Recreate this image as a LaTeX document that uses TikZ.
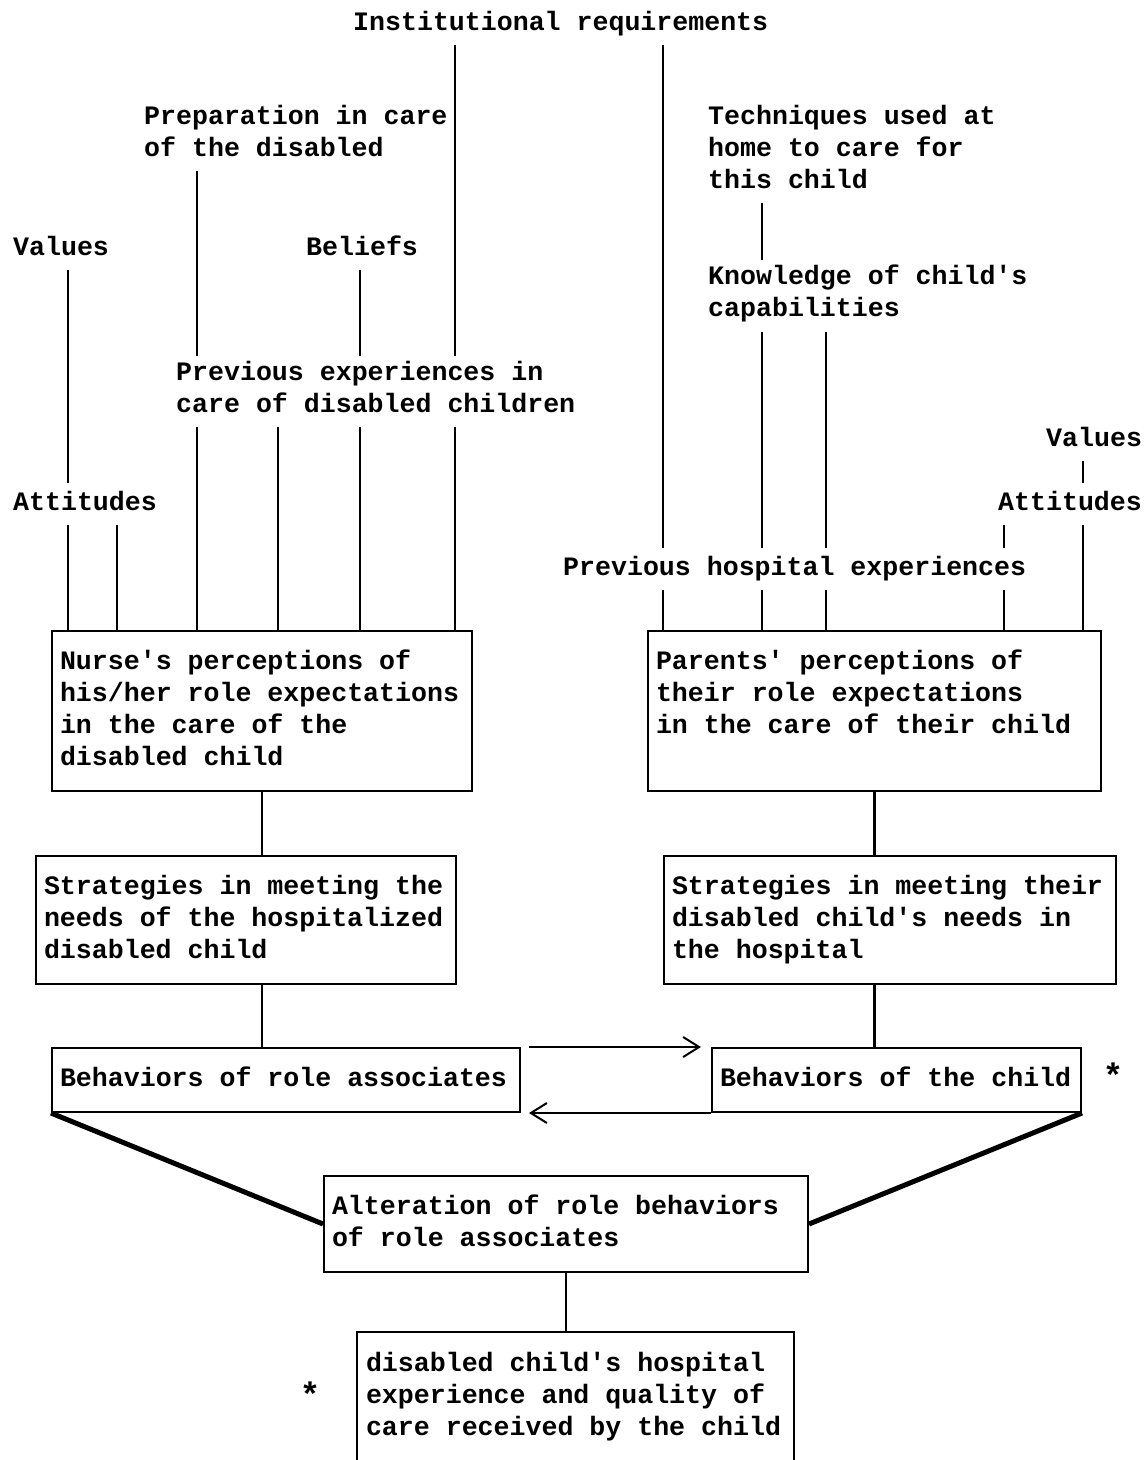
\documentclass[tikz,border=0pt]{standalone}
\usepackage{fontspec}
\setmonofont{Liberation Mono}
\usetikzlibrary{arrows.meta}
\newcommand{\typespace}{\spaceskip=0pt\relax\xspaceskip=0pt\relax}

\begin{document}
\begin{tikzpicture}[x=0.5pt, y=-0.5pt, line width=1.2pt]
    \tikzstyle{every node} = [font=\ttfamily\bfseries\fontsize{13.3}{16}\selectfont, align=left,
        execute at begin node={\typespace\strut}, execute at end node=\strut]
    \tikzstyle{lbl} = [anchor=north west, inner xsep=0pt, inner ysep=2pt]
    \tikzstyle{box} = [draw, line width=1pt, anchor=north west, inner xsep=4pt, inner ysep=8pt]
    \tikzstyle{starmark} = [font=\ttfamily\bfseries\fontsize{17}{16}\selectfont]
    \tikzstyle{link} = [line width=1pt, -{Straight Barb[length=8pt, width=10pt]}]
    \tikzstyle{heavy} = [line width=2.5pt]
    \useasboundingbox (0,0) rectangle (1144,1460);

    \node (inst) [lbl] at (352, 3) {Institutional requirements};
    \node (prep) [lbl] at (143, 100) {Preparation in care\\of the disabled};
    \node (valL) [lbl] at (12, 228) {Values};
    \node (beliefs) [lbl] at (305, 228) {Beliefs};
    \node (prevexp) [lbl] at (175, 356) {Previous experiences in\\care of disabled children};
    \node (attL) [lbl] at (12, 483) {Attitudes};
    \node (tech) [lbl] at (707, 100) {Techniques used at\\home to care for\\this child};
    \node (know) [lbl] at (707, 260) {Knowledge of child's\\capabilities};
    \node (valR) [lbl] at (1045, 419) {Values};
    \node (attR) [lbl] at (997, 483) {Attitudes};
    \node (prevhosp) [lbl] at (562, 548) {Previous hospital experiences};

    \node (nurse) [box, text width=202pt] at (51, 630)
        {Nurse's perceptions of\\his/her role expectations\\in the care of the\\disabled child};
    \node (parents) [box, text width=218.5pt] at (647, 630)
        {Parents' perceptions of\\their role expectations\\in the care of their child\\ \mbox{}};
    \node (stratL) [box, text width=202pt] at (35, 855)
        {Strategies in meeting the\\needs of the hospitalized\\disabled child};
    \node (stratR) [box, text width=218pt] at (663, 855)
        {Strategies in meeting their\\disabled child's needs in\\the hospital};
    \node (behL) [box, text width=226pt] at (51, 1047) {Behaviors of role associates};
    \node (behR) [box, text width=176.5pt] at (711, 1047) {Behaviors of the child};
    \node (star1) [starmark] at (1113, 1080) {*};
    \node (alter) [box, text width=234pt] at (323, 1175)
        {Alteration of role behaviors\\of role associates};
    \node (result) [box, draw=none, text width=209.5pt] at (357, 1332)
        {disabled child's hospital\\experience and quality of\\care received by the child};
    \node (star2) [starmark] at (310, 1399) {*};

    \coordinate (c1) at (68, 0);
    \coordinate (c2) at (117, 0);
    \coordinate (c3) at (197, 0);
    \coordinate (c4) at (278, 0);
    \coordinate (c5) at (360, 0);
    \coordinate (c6) at (455, 0);
    \coordinate (c7) at (663, 0);
    \coordinate (c8) at (762, 0);
    \coordinate (c9) at (826, 0);
    \coordinate (c10) at (1004, 0);
    \coordinate (c11) at (1083, 0);

    \draw (valL.south -| c1) -- (attL.north -| c1);
    \draw (attL.south -| c1) -- (nurse.north -| c1);
    \draw (attL.south -| c2) -- (nurse.north -| c2);
    \draw (prep.south -| c3) -- (prevexp.north -| c3);
    \draw (prevexp.south -| c3) -- (nurse.north -| c3);
    \draw (prevexp.south -| c4) -- (nurse.north -| c4);
    \draw (beliefs.south -| c5) -- (prevexp.north -| c5);
    \draw (prevexp.south -| c5) -- (nurse.north -| c5);
    \draw (inst.south -| c6) -- (prevexp.north -| c6);
    \draw (prevexp.south -| c6) -- (nurse.north -| c6);
    \draw (inst.south -| c7) -- (prevhosp.north -| c7);
    \draw (prevhosp.south -| c7) -- (parents.north -| c7);
    \draw (tech.south -| c8) -- (know.north -| c8);
    \draw (know.south -| c8) -- (prevhosp.north -| c8);
    \draw (prevhosp.south -| c8) -- (parents.north -| c8);
    \draw (know.south -| c9) -- (prevhosp.north -| c9);
    \draw (prevhosp.south -| c9) -- (parents.north -| c9);
    \draw (attR.south -| c10) -- (prevhosp.north -| c10);
    \draw (prevhosp.south -| c10) -- (parents.north -| c10);
    \draw (valR.south -| c11) -- (attR.north -| c11);
    \draw (attR.south -| c11) -- (parents.north -| c11);

    \draw (nurse.south) -- (nurse.south |- stratL.north);
    \draw (nurse.south |- stratL.south) -- (nurse.south |- behL.north);
    \draw (parents.south) -- (parents.south |- stratR.north);
    \draw (parents.south |- stratR.south) -- (parents.south |- behR.north);
    \draw [link] ([xshift=4pt]behL.north east) -- ([xshift=-5pt]behR.north west);
    \draw [link] (behR.south west) -- ([xshift=4pt]behL.south east);
    \draw [heavy] (behL.south west) -- (alter.west);
    \draw [heavy] (behR.south east) -- (alter.east);
    \draw (alter.south) -- (alter.south |- result.north);
    \draw [line width=1pt] (result.south west) -- (result.north west) -- (result.north east) -- (result.south east);
\end{tikzpicture}
\end{document}
